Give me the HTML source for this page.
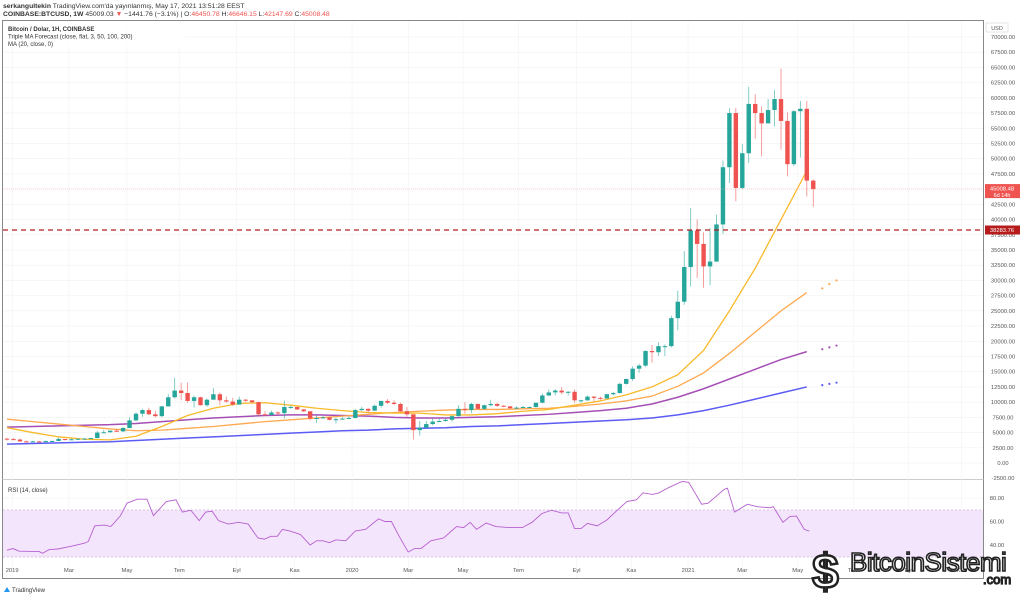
<!DOCTYPE html>
<html><head><meta charset="utf-8">
<style>
body{margin:0;background:#fff;font-family:"Liberation Sans",sans-serif;}
svg text{font-family:"Liberation Sans",sans-serif;}
</style></head>
<body>
<svg id="chart" width="1024" height="596" viewBox="0 0 1024 596" xmlns="http://www.w3.org/2000/svg">
<rect x="0" y="0" width="1024" height="596" fill="#ffffff"/>
<text x="3" y="8" font-size="6.8" fill="#333"><tspan font-weight="bold">serkangultekin</tspan> TradingView.com'da yayınlanmış, May 17, 2021 13:51:28 EEST</text>
<text x="3" y="16" font-size="6.8" fill="#333"><tspan font-weight="bold">COINBASE:BTCUSD, 1W</tspan> 45009.03 <tspan fill="#ef5350">▼</tspan> −1441.76 (−3.1%) | O:<tspan fill="#ef5350">46450.78</tspan> H:<tspan fill="#ef5350">46646.15</tspan> L:<tspan fill="#ef5350">42147.69</tspan> C:<tspan fill="#ef5350">45008.48</tspan></text>
<rect x="2.5" y="20.5" width="981" height="558" fill="none" stroke="#888" stroke-width="1"/>
<line x1="2.5" y1="479.5" x2="983.5" y2="479.5" stroke="#ccc"/>
<g id="grid"></g>
<rect x="3" y="510" width="980" height="47" fill="#f3e5fc"/>
<line x1="3" y1="510" x2="983" y2="510" stroke="#d9c3e6" stroke-dasharray="2,2"/>
<line x1="3" y1="557" x2="983" y2="557" stroke="#d9c3e6" stroke-dasharray="2,2"/>
<g id="ma"></g>
<g id="candles"></g>
<g id="rsi"></g>
<line x1="3" y1="189" x2="983" y2="189" stroke="#f4a3a3" stroke-width="0.6" stroke-dasharray="1,1"/>
<line x1="3" y1="230" x2="983" y2="230" stroke="#b22222" stroke-width="1.2" stroke-dasharray="5,4"/>
<g id="axis"></g>
<rect x="5" y="22" width="180" height="25" fill="#fff" opacity="0.85"/>
<text x="8" y="31" font-size="6" font-weight="bold" fill="#333">Bitcoin / Dolar, 1H, COINBASE</text>
<text x="8" y="38.5" font-size="6" fill="#333">Triple MA Forecast (close, flat, 3, 50, 100, 200)</text>
<text x="8" y="46" font-size="6" fill="#333">MA (20, close, 0)</text>
<text x="8" y="492" font-size="6" fill="#333">RSI (14, close)</text>
<rect x="986" y="23" width="22" height="9" fill="#fff" stroke="#ccc" stroke-width="0.5"/>
<text x="997" y="30" font-size="5.5" text-anchor="middle" fill="#555">USD</text>
<g><path d="M4 592 l3-5 l3 5z" fill="#2196f3"/><text x="12" y="592" font-size="6" fill="#333">TradingView</text></g>
<g>
<text x="812" y="588" font-size="48" font-weight="bold" fill="#fff" stroke="#222" stroke-width="2.5">$</text>
<text x="850" y="571" font-size="26" fill="#fff" stroke="#222" stroke-width="1.6" letter-spacing="-0.5">BitcoinSistemi</text>
<text x="983" y="584" font-size="13" fill="#fff" stroke="#222" stroke-width="1.2">.com</text>
</g>
</svg>
<script>
const closes=[3.92,3.85,3.55,3.53,3.55,3.42,3.60,3.62,3.95,3.80,3.90,3.98,4.02,4.10,5.00,5.05,5.30,5.20,5.75,7.00,8.10,8.70,8.00,7.70,9.30,10.80,11.90,11.50,10.20,10.80,9.50,10.40,11.30,10.30,10.10,9.60,10.40,10.30,10.00,8.00,7.90,8.30,8.20,9.20,9.20,8.80,8.50,7.30,7.40,7.50,7.10,7.20,7.30,7.40,8.70,8.90,8.60,9.40,10.20,9.90,9.70,8.50,8.00,5.40,5.80,6.40,6.80,6.90,7.10,7.70,8.90,8.70,9.70,8.90,9.50,9.70,9.40,9.30,9.00,9.10,9.20,9.20,9.90,11.10,11.60,11.90,11.60,11.70,10.30,10.30,10.90,10.70,10.60,11.30,11.50,13.00,13.80,15.50,16.00,18.40,18.20,19.20,19.20,23.80,26.50,32.20,38.20,36.00,32.30,33.10,39.20,48.60,57.50,45.20,50.90,59.00,57.50,55.80,58.00,59.80,56.20,49.10,57.80,58.20,46.40,45.00];
const firstOpen=4.0;
const highs=[4.1,4.1,4.0,3.7,3.65,3.6,3.7,3.7,4.2,3.95,4.0,4.05,4.1,4.15,5.3,5.45,5.4,5.6,5.9,7.5,8.3,8.9,9.1,8.6,9.4,11.3,14.0,13.2,13.2,11.1,10.9,10.6,12.3,11.6,10.9,10.7,10.9,10.5,10.3,10.1,8.5,8.6,8.5,10.3,9.5,9.3,8.9,8.5,7.8,7.7,7.6,7.5,7.5,7.6,8.9,9.2,9.0,9.6,10.2,10.5,10.3,9.9,9.2,8.0,6.9,6.9,7.3,7.3,7.3,7.8,9.5,10.0,9.9,9.8,9.6,10.4,9.9,9.5,9.4,9.3,9.4,9.3,9.9,11.4,12.1,12.1,12.5,11.8,12.1,10.4,11.1,11.0,10.9,11.4,11.7,13.2,13.9,15.9,16.3,18.5,19.4,19.8,19.5,24.2,28.3,34.8,41.9,40.0,37.9,38.6,40.8,49.7,58.3,58.3,52.4,61.8,60.6,58.6,59.8,61.3,64.8,57.6,58.0,59.5,59.5,46.6];
const lows=[3.7,3.8,3.5,3.5,3.45,3.35,3.4,3.55,3.6,3.7,3.75,3.85,3.9,3.95,4.05,4.9,5.0,5.1,5.1,5.7,6.9,7.6,7.9,7.5,7.5,9.3,10.6,10.3,9.9,9.1,9.4,9.2,10.4,9.5,9.9,9.4,9.6,10.0,9.8,7.7,7.8,7.8,7.9,7.3,8.9,8.7,8.4,7.0,6.6,7.3,7.0,6.5,7.1,7.2,7.3,8.5,8.3,8.6,9.1,9.7,9.5,8.4,7.6,3.85,4.5,5.7,6.2,6.7,6.8,6.8,7.6,8.1,8.2,8.8,8.7,9.3,9.2,9.2,8.9,8.9,9.0,9.0,9.1,9.8,11.0,11.1,11.3,11.1,9.9,9.9,10.2,10.1,10.4,10.6,11.1,11.4,12.9,13.5,14.8,15.8,16.5,17.6,17.6,19.0,21.8,26.0,29.0,30.4,28.8,29.2,33.0,37.6,46.0,43.0,45.0,49.3,53.3,50.4,56.7,55.3,51.5,47.1,48.8,50.2,43.8,42.1];
const maWeeks=[0,4,8,12,16,20,24,28,32,36,40,44,48,52,56,60,64,68,72,76,80,84,88,92,96,100,104,108,112,116,120,124];
const ma20=[5.8,5.0,4.3,3.9,3.8,4.4,6.0,7.8,9.0,9.8,9.9,9.5,9.0,8.6,8.3,8.2,8.2,7.9,7.9,8.1,8.5,8.8,9.5,10.2,11.2,12.5,14.5,18.5,25,32,40,48];
const ma50=[7.2,6.8,6.4,6.0,5.6,5.3,5.4,5.7,6.0,6.4,6.8,7.1,7.4,7.7,8.0,8.3,8.5,8.7,8.8,8.8,8.9,9.0,9.3,9.7,10.2,11.0,12.6,14.8,18.0,21.5,25.0,28.0];
const ma100=[5.9,6.0,6.1,6.2,6.3,6.5,6.8,7.1,7.4,7.6,7.8,7.9,7.9,7.8,7.7,7.5,7.4,7.4,7.5,7.6,7.8,8.0,8.3,8.6,9.0,9.7,10.8,12.2,13.8,15.4,17.0,18.3];
const ma200=[3.1,3.2,3.3,3.4,3.5,3.7,3.9,4.1,4.3,4.5,4.7,4.9,5.1,5.3,5.4,5.6,5.7,5.8,6.0,6.1,6.3,6.5,6.7,6.9,7.1,7.4,7.9,8.6,9.5,10.5,11.5,12.5];
const forecastWeeks=[126.4,127.5,128.6];
const fc50=[28.7,29.4,30.0];
const fc100=[18.7,19.0,19.3];
const fc200=[12.8,13.0,13.2];
const rsiWeek=[0,0.9,1.9,5,5.5,6.5,8,10,12,12.6,13.6,15.1,16.1,17.6,18.6,20.2,21.7,22.7,24.7,26.2,27.2,28.5,29.8,30.8,31.8,32.8,34.3,35.9,37.4,38.9,39.9,40.9,41.9,42.7,43.9,45.5,47,48,49,50,51,52.5,54,55.6,57.6,58.6,59.6,60.8,62.2,63.2,64.2,65.7,67.7,69.2,69.7,70.8,71.8,72.8,74.3,75.8,77.8,79.9,81.4,82.9,84.4,86,87,88,89,90,91.5,93,94.5,96.1,97.6,98.6,100.1,101.1,102.6,104.7,105.7,107.7,108.7,111.2,111.7,112.8,114.8,116.3,118.3,118.8,120.3,121.4,122.4,123.6,124.4];
const rsiValue=[35.6,37,34.7,34.4,33,36,36.7,39,41.5,43,56.3,57,55.7,65,75.6,79,79,65,77,78.5,68,69.6,60.7,68,68.7,60.7,57.8,59.3,57.8,46,45,47.4,47.4,53.3,51.9,48.9,40,43.6,43.6,42,44.4,43.6,51.9,53.3,62.2,60,60,47.4,34,37,37,43.6,46,53.3,55.7,54.8,59.3,53.3,58.7,55.7,54.8,54.8,59.3,66.7,69.6,67.3,67.3,54,54,58.4,56.3,61.3,69,77,78.5,84.4,83,84.4,88.9,94.2,93.3,74.7,75.6,87.4,88.3,68,74.7,72.6,71.7,72.6,59.3,64.3,64.6,53.3,51.9];
const priceTicks=[-2500,0,2500,5000,7500,10000,12500,15000,17500,20000,22500,25000,27500,30000,32500,35000,37500,40000,42500,45000,47500,50000,52500,55000,57500,60000,62500,65000,67500,70000];
const rsiTicks=[40,60,80];
const timeLabels=["2019","Mar","May","Tem","Eyl","Kas","2020","Mar","May","Tem","Eyl","Kas","2021","Mar","May","Tem","Eyl","Kas"];
const timeLabelWeeks=[0.8,9.6,18.6,26.7,35.6,44.6,53.5,62.2,70.7,79.3,88.3,96.8,105.6,114,122.6,131.2,139.8,148];

const NS="http://www.w3.org/2000/svg";
const xW=i=>7+i*6.45;
const yP=v=>463-v*0.006086;
const yK=v=>yP(v*1000);
const yR=v=>498+(80-v)*1.175;
function mk(tag,attrs,parent){const e=document.createElementNS(NS,tag);for(const k in attrs)e.setAttribute(k,attrs[k]);parent.appendChild(e);return e;}
const grid=document.getElementById('grid'),axis=document.getElementById('axis');
priceTicks.forEach(t=>{
  const y=yP(t);
  if(t>=0){
    const l=mk('line',{x1:3,x2:983,y1:y,y2:y,stroke:'#f0f0f0','stroke-width':0.6},grid);
    
    
  }
  if(Math.abs(y-189)<5||Math.abs(y-230)<4)return;
  const tx=mk('text',{x:1003,y:y+2,'font-size':5.8,'text-anchor':'middle',fill:'#555'},axis);
  tx.textContent=t.toFixed(2);
  
  
});
rsiTicks.forEach(t=>{
  const y=yR(t);
  const l=mk('line',{x1:3,x2:983,y1:y,y2:y,stroke:'#f0f0f0','stroke-width':0.6},grid);
  
  
  const tx=mk('text',{x:997,y:y+2,'font-size':5.8,'text-anchor':'middle',fill:'#555'},axis);
  tx.textContent=t.toFixed(2);
  
  
});
timeLabels.forEach((s,i)=>{
  const x=xW(timeLabelWeeks[i]);
  const l=mk('line',{x1:x,x2:x,y1:21,y2:578,stroke:'#f2f2f2','stroke-width':0.6},grid);
  
  
  const tx=mk('text',{x:x,y:572,'font-size':5.8,'text-anchor':'middle',fill:'#555'},axis);
  tx.textContent=s;
  
  
});
const cur=mk('g',{},axis);


mk('rect',{x:985,y:yK(45.008)-5,width:35,height:14,fill:'#ef5350'},cur);
let t1=mk('text',{x:1002,y:yK(45.008)+1.5,'font-size':5.8,'text-anchor':'middle',fill:'#fff'},cur);t1.textContent='45008.48';
let t2=mk('text',{x:1002,y:yK(45.008)+8,'font-size':5.5,'text-anchor':'middle',fill:'#fff'},cur);t2.textContent='6d 14h';
const sup=mk('g',{},axis);


mk('rect',{x:985,y:yK(38.284)-4.5,width:35,height:9,fill:'#b71c1c'},sup);
let t3=mk('text',{x:1002,y:yK(38.284)+2,'font-size':5.8,'text-anchor':'middle',fill:'#fff'},sup);t3.textContent='38283.76';

const maG=document.getElementById('ma');
function line(weeks,vals,color,w,name){
  const p=mk('polyline',{points:weeks.map((wk,i)=>xW(wk)+','+yK(vals[i])).join(' '),fill:'none',stroke:color,'stroke-width':w,'stroke-linejoin':'round'},maG);
  
  
}
line(maWeeks,ma200,'#5b5bf5',1.5,'ma200-line');
line(maWeeks,ma100,'#a54fb5',1.5,'ma100-line');
line(maWeeks,ma50,'#ffa84f',1.3,'ma50-line');
line(maWeeks,ma20,'#f9b92b',1.3,'ma20-line');
function dots(vals,color,name){
  vals.forEach((v,i)=>{
    const c=mk('circle',{cx:xW(forecastWeeks[i]),cy:yK(v),r:1.1,fill:color},maG);
    
    
  });
}
dots(fc50,'#ffa84f','ma50-forecast-dot');
dots(fc100,'#a54fb5','ma100-forecast-dot');
dots(fc200,'#5b5bf5','ma200-forecast-dot');

const cg=document.getElementById('candles');
closes.forEach((c,i)=>{
  const o=i===0?firstOpen:closes[i-1];
  const up=c>=o;
  const col=up?'#26a69a':'#ef5350';
  const x=xW(i);
  const g=mk('g',{},cg);
  
  
  mk('line',{x1:x,x2:x,y1:yK(highs[i]),y2:yK(lows[i]),stroke:col,'stroke-width':0.8,opacity:0.7},g);
  const top=yK(Math.max(o,c)),bot=yK(Math.min(o,c));
  mk('rect',{x:x-2.2,y:top,width:4.4,height:Math.max(1,bot-top),fill:col},g);
});

const rg=document.getElementById('rsi');
const rl=mk('polyline',{points:rsiWeek.map((wk,i)=>xW(wk)+','+yR(rsiValue[i])).join(' '),fill:'none',stroke:'#b760d0','stroke-width':0.9},rg);


</script>
</body></html>
